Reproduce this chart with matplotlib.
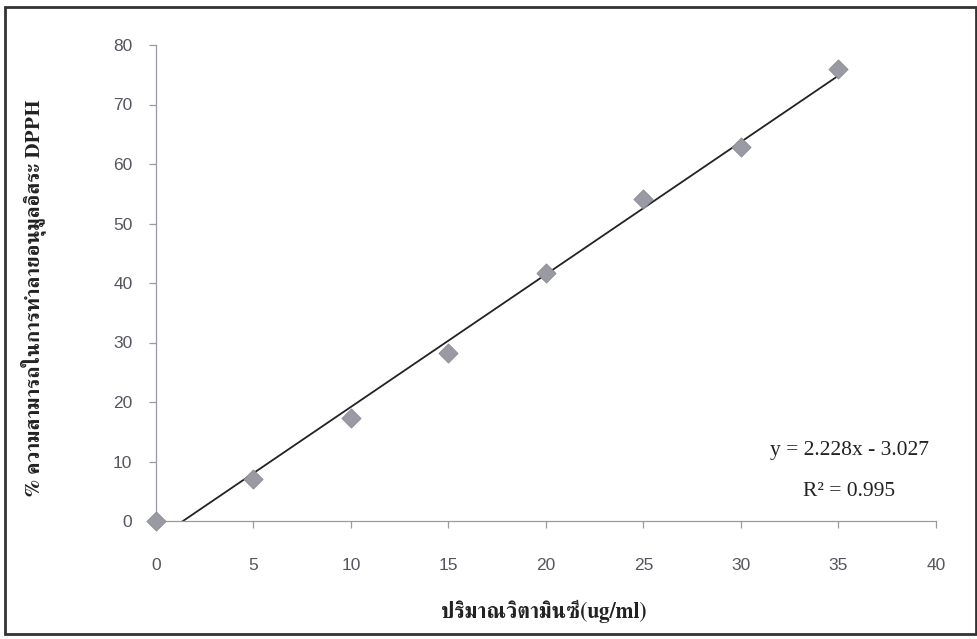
import numpy as np
import matplotlib
matplotlib.use("Agg")
import matplotlib.pyplot as plt
from matplotlib import font_manager
from matplotlib.ft2font import FT2Font
from matplotlib.patches import Rectangle

# data
vit_c = [0, 5, 10, 15, 20, 25, 30, 35]
dpph = [0, 7.0, 17.3, 28.2, 41.6, 54.1, 62.9, 76.0]
x_ticks = [0, 5, 10, 15, 20, 25, 30, 35, 40]
y_ticks = [0, 10, 20, 30, 40, 50, 60, 70, 80]

x_label = "ปริมาณวิตามินซี(ug/ml)"
y_label = "% ความสามารถในการทำลายอนุมูลอิสระ DPPH"
eq_text = "y = 2.228x - 3.027"
r2_text = "R² = 0.995"


def thai_family():
    # find an installed font that has Thai glyphs, prefer serif
    found = []
    for f in font_manager.fontManager.ttflist:
        try:
            cmap = FT2Font(f.fname).get_charmap()
        except Exception:
            continue
        if ord("ก") in cmap:
            found.append(f.name)
    if not found:
        return None
    for name in found:
        if "Serif" in name or "Looped" in name:
            return name
    return found[0]


th = thai_family()
label_fam = [th, "Liberation Serif"] if th else ["Liberation Serif", "DejaVu Serif"]

fig = plt.figure(figsize=(9.78, 6.39), dpi=100)
ax = fig.add_axes([156 / 978, 1 - 521 / 639, 780 / 978, 476 / 639])

ax.scatter(vit_c, dpph, marker="D", s=95, color="#9a9aa4",
           edgecolors="#8a8a94", linewidths=0.6, zorder=3, clip_on=False)

# linear trendline
m, b = np.polyfit(vit_c, dpph, 1)
xs = np.array([0, max(vit_c)])
ax.plot(xs, m * xs + b, color="#222222", lw=1.3, zorder=2)

ax.set_xlim(0, 40)
ax.set_ylim(0, 80)
ax.set_xticks(x_ticks)
ax.set_yticks(y_ticks)
ax.tick_params(colors="#9a9aa6", labelcolor="#55555f", labelsize=12.5,
               direction="out", length=5, width=0.9)
ax.tick_params(axis="x", pad=22)
ax.tick_params(axis="y", pad=12)
for lab in ax.get_xticklabels() + ax.get_yticklabels():
    lab.set_family("Liberation Sans")

for s in ["top", "right"]:
    ax.spines[s].set_visible(False)
for s in ["left", "bottom"]:
    ax.spines[s].set_color("#9a9aa6")
    ax.spines[s].set_linewidth(0.9)

fig.text(544 / 978, 1 - 611 / 639, x_label, ha="center", va="center",
         fontsize=15.5, fontweight="bold", family=label_fam, color="#222222")
fig.text(33 / 978, 1 - 298 / 639, y_label, ha="center", va="center",
         rotation=90, fontsize=15, fontweight="bold", family=label_fam,
         color="#222222")

ax.text(850 / 978, 1 - 451 / 639, eq_text, transform=fig.transFigure,
        ha="center", va="center", fontsize=15.5, family="Liberation Serif",
        color="#222222")
ax.text(849 / 978, 1 - 492 / 639, r2_text, transform=fig.transFigure,
        ha="center", va="center", fontsize=15.5, family="Liberation Serif",
        color="#222222")

# outer chart frame
fig.patches.append(Rectangle((5 / 978, 1 - 634 / 639), 971 / 978, 627 / 639,
                             transform=fig.transFigure, fill=False,
                             edgecolor="#333333", lw=2))

fig.savefig("out.png", dpi=100)
